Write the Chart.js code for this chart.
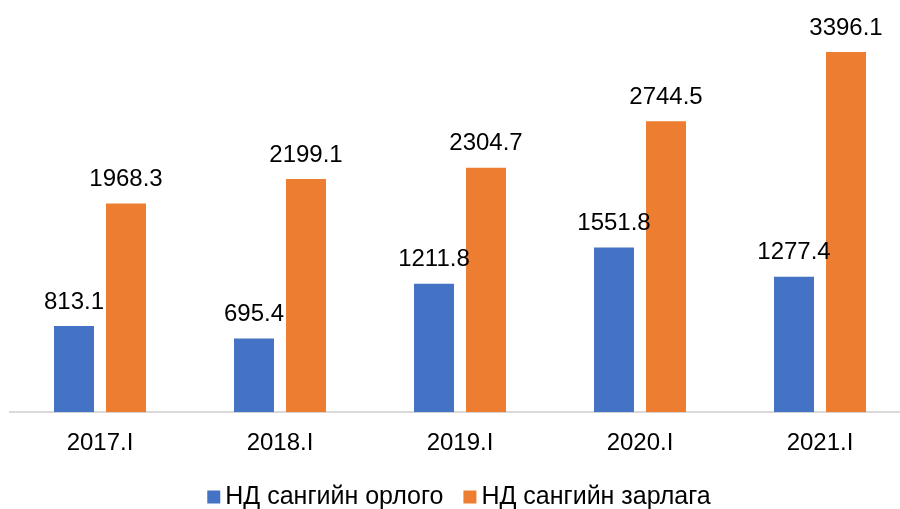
<!DOCTYPE html>
<html>
<head>
<meta charset="utf-8">
<script src="https://cdn.jsdelivr.net/npm/chart.js@4"></script>
<style>
html,body{margin:0;padding:0;background:#fff;overflow:hidden;}
#wrap{width:900px;height:509px;overflow:hidden;position:relative;}
canvas{display:block;}
</style>
</head>
<body>
<div id="wrap"><canvas id="c" width="918" height="509"></canvas></div>
<script>
const categories = ["2017.I", "2018.I", "2019.I", "2020.I", "2021.I"];
const seriesNames = ["НД сангийн орлого", "НД сангийн зарлага"];
const income = [813.1, 695.4, 1211.8, 1551.8, 1277.4];
const expense = [1968.3, 2199.1, 2304.7, 2744.5, 3396.1];

const FONT = "'Liberation Sans', Arial, sans-serif";

const valueLabels = {
  id: 'valueLabels',
  afterDatasetsDraw(chart) {
    const ctx = chart.ctx;
    ctx.save();
    ctx.font = "24px " + FONT;
    ctx.fillStyle = "#000";
    ctx.textAlign = "center";
    ctx.textBaseline = "middle";
    chart.data.datasets.forEach((ds, di) => {
      const meta = chart.getDatasetMeta(di);
      meta.data.forEach((bar, i) => {
        ctx.fillText(ds.data[i].toFixed(1), bar.x, bar.y - 24);
      });
    });
    ctx.restore();
  }
};

const customLegend = {
  id: 'customLegend',
  afterDraw(chart) {
    const ctx = chart.ctx;
    ctx.save();
    ctx.font = "25px " + FONT;
    ctx.textBaseline = "middle";
    ctx.textAlign = "left";
    const box = 13, gap = 5, spacing = 20;
    const items = chart.data.datasets.map(ds => ({ text: ds.label, color: ds.backgroundColor, w: ctx.measureText(ds.label).width }));
    let total = 0;
    items.forEach((it, i) => { total += box + gap + it.w + (i < items.length - 1 ? spacing : 0); });
    let x = chart.width / 2 - total / 2;
    const cy = 497;
    items.forEach(it => {
      ctx.fillStyle = it.color;
      ctx.fillRect(x, cy - box / 2, box, box);
      x += box + gap;
      ctx.fillStyle = "#000";
      ctx.fillText(it.text, x, cy);
      x += it.w + spacing;
    });
    ctx.restore();
  }
};

new Chart(document.getElementById('c'), {
  type: 'bar',
  data: {
    labels: categories,
    datasets: [
      { label: seriesNames[0], data: income, backgroundColor: '#4472C4' },
      { label: seriesNames[1], data: expense, backgroundColor: '#ED7D31' }
    ]
  },
  options: {
    responsive: false,
    animation: false,
    devicePixelRatio: 1,
    datasets: { bar: { categoryPercentage: 0.578, barPercentage: 0.769 } },
    layout: { padding: { left: 10, right: 8, top: 41, bottom: 42 } },
    scales: {
      x: {
        grid: { display: false },
        border: { display: true, color: '#d9d9d9', width: 2 },
        ticks: { color: '#000', font: { family: FONT, size: 24 }, padding: 9, maxRotation: 0 }
      },
      y: {
        display: false,
        min: 0, max: 3500,
        grid: { display: false }
      }
    },
    plugins: {
      tooltip: { enabled: false },
      legend: { display: false }
    }
  },
  plugins: [valueLabels, customLegend]
});
</script>
</body>
</html>
